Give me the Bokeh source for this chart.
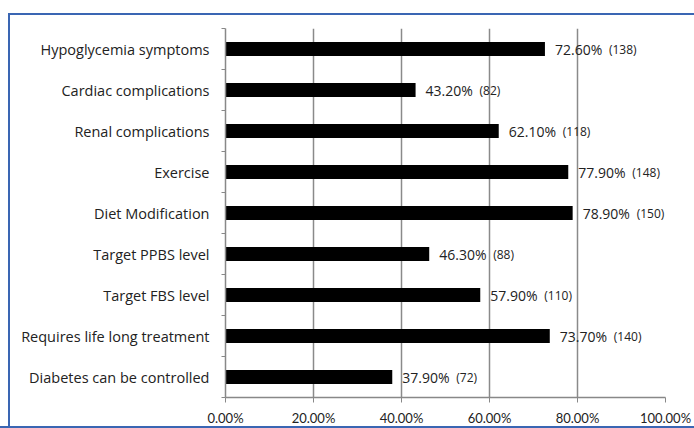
from bokeh.plotting import figure
from bokeh.models import (ColumnDataSource, FixedTicker, PrintfTickFormatter, Range1d)
from bokeh.embed import file_html
from bokeh.resources import INLINE

categories = ["Hypoglycemia symptoms", "Cardiac complications", "Renal complications",
              "Exercise", "Diet Modification", "Target PPBS level", "Target FBS level",
              "Requires life long treatment", "Diabetes can be controlled"]
percent = [72.6, 43.2, 62.1, 77.9, 78.9, 46.3, 57.9, 73.7, 37.9]
counts = [138, 82, 118, 148, 150, 88, 110, 140, 72]
x_ticks = [0, 20, 40, 60, 80, 100]

n = len(categories)
ypos = [n - i - 0.5 for i in range(n)]
src = ColumnDataSource(dict(
    y=ypos, v=percent,
    pct=["%.2f%%" % v for v in percent],
    cnt=["(%d)" % c for c in counts],
))

FONT = "Open Sans"
TXT = "#222222"
BLUE = "#3a66b3"
p = figure(width=694, height=428, output_backend="svg", toolbar_location=None,
           x_range=Range1d(0, 100), y_range=Range1d(0, n),
           min_border_left=225, min_border_right=29, min_border_top=28,
           min_border_bottom=20)
p.outline_line_color = None
p.background_fill_color = "white"
p.border_fill_color = None
g = "linear-gradient(%s,%s)" % (BLUE, BLUE)
p.styles = {"background": (g + " 8px 13px / 100% 2px no-repeat, "
                           + g + " 8px 13px / 2px 100% no-repeat, "
                           + g + " 0px 426px / 100% 2px no-repeat, white")}

p.hbar(y="y", right="v", left=0, height=0.34, source=src,
       fill_color="black", line_color=None)

p.text(x="v", y="y", text="pct", source=src, x_offset=10,
       text_baseline="middle", text_align="left", text_font_size="14px",
       text_color=TXT, text_font={"value": FONT})
p.text(x="v", y="y", text="cnt", source=src, x_offset=64,
       text_baseline="middle", text_align="left", text_font_size="12px",
       text_color=TXT, text_font={"value": FONT})

# x axis
p.xaxis.ticker = FixedTicker(ticks=x_ticks)
p.xaxis.formatter = PrintfTickFormatter(format="%.2f%%")
p.xaxis.axis_line_color = "#888888"
p.xaxis.axis_line_width = 1.5
p.xaxis.major_tick_line_color = "#888888"
p.xaxis.major_tick_out = 5
p.xaxis.major_tick_in = 0
p.xaxis.minor_tick_line_color = None
p.xaxis.major_label_standoff = 7
p.xaxis.major_label_text_font = "Lato"
p.xaxis.major_label_text_font_size = "13px"
p.xaxis.major_label_text_color = TXT

# y axis
p.yaxis.ticker = FixedTicker(ticks=ypos, minor_ticks=list(range(n + 1)))
p.yaxis.major_label_overrides = {y: c for y, c in zip(ypos, categories)}
p.yaxis.axis_line_color = "#888888"
p.yaxis.axis_line_width = 1.5
p.yaxis.major_tick_line_color = None
p.yaxis.minor_tick_line_color = "#888888"
p.yaxis.minor_tick_out = 4
p.yaxis.minor_tick_in = 0
p.yaxis.major_label_standoff = 10
p.yaxis.major_label_text_font = FONT
p.yaxis.major_label_text_font_size = "14.5px"
p.yaxis.major_label_text_color = TXT

p.xgrid.ticker = FixedTicker(ticks=x_ticks[1:])
p.xgrid.grid_line_color = "#8a8a8a"
p.xgrid.grid_line_width = 1.5
p.ygrid.grid_line_color = None

open("out.html", "w").write(file_html(p, INLINE))
